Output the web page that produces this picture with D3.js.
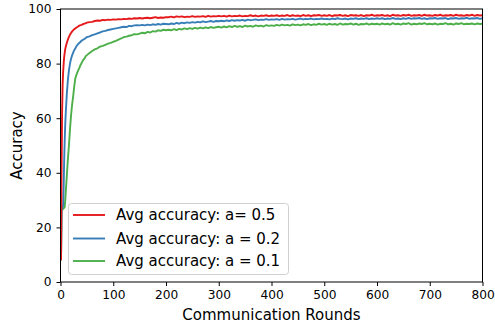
<!DOCTYPE html>
<html>
<head>
<meta charset="utf-8">
<script src="https://cdn.jsdelivr.net/npm/d3@7"></script>
<style>
  html, body { margin: 0; padding: 0; background: #fff; }
  svg { display: block; font-family: "DejaVu Sans", sans-serif; }
</style>
</head>
<body>
<svg id="chart" width="495" height="329"></svg>
<script>
// ---- data ----
const rounds = [1,2,3,4,5,6,7,8,9,10,
  12,14,16,18,20,22,24,26,28,30,32,34,36,38,40,42,44,46,48,50,
  55,60,65,70,75,80,85,90,95,100,
  105,110,115,120,125,130,135,140,145,150,155,160,165,170,175,180,185,190,195,200,
  205,210,215,220,225,230,235,240,245,250,255,260,265,270,275,280,285,290,295,300,
  305,310,315,320,325,330,335,340,345,350,355,360,365,370,375,380,385,390,395,400,
  405,410,415,420,425,430,435,440,445,450,455,460,465,470,475,480,485,490,495,500,
  505,510,515,520,525,530,535,540,545,550,555,560,565,570,575,580,585,590,595,600,
  605,610,615,620,625,630,635,640,645,650,655,660,665,670,675,680,685,690,695,700,
  705,710,715,720,725,730,735,740,745,750,755,760,765,770,775,780,785,790,795,800];

const accA05 = [8,40,62,72,77,80,82.5,84,85.3,86.2,
  87.6,88.8,89.8,90.6,91.2,91.8,92.2,92.6,92.9,93.2,93.4,93.7,93.9,94.1,94.2,94.4,94.5,94.7,94.8,95.0,
  95.2,95.3,95.6,95.8,95.7,96.0,95.9,96.1,96.0,96.2,
  96.1,96.3,96.2,96.4,96.3,96.5,96.4,96.6,96.5,96.7,96.5,96.7,96.8,96.6,96.8,97.0,96.7,96.9,96.8,97.0,
  97.0,97.2,96.9,97.3,97.1,97.3,97.0,97.2,97.1,97.4,97.1,97.3,97.2,97.4,97.1,97.5,97.2,97.4,97.3,97.5,
  97.3,97.5,97.2,97.6,97.3,97.5,97.4,97.6,97.3,97.5,97.4,97.7,97.4,97.6,97.3,97.6,97.5,97.7,97.4,97.6,
  97.5,97.7,97.4,97.6,97.5,97.8,97.4,97.7,97.5,97.6,97.4,97.8,97.5,97.7,97.4,97.7,97.6,97.8,97.5,97.7,
  97.5,97.8,97.4,97.7,97.6,97.8,97.5,97.7,97.4,97.8,97.6,97.7,97.5,97.8,97.4,97.7,97.6,97.9,97.5,97.7,
  97.6,97.8,97.5,97.7,97.4,97.9,97.6,97.7,97.5,97.8,97.6,97.9,97.5,97.7,97.6,97.8,97.5,97.9,97.6,97.7,
  97.5,97.8,97.6,97.9,97.5,97.7,97.6,97.8,97.5,97.9,97.6,97.7,97.5,97.8,97.6,97.9,97.5,97.8,97.6,97.7];

const accA02 = [8,26.5,27,27.5,28,35,45,52,58,62,
  69,74,77.5,80,81.8,83,84,84.9,85.5,86.3,86.8,87.3,87.6,88.0,88.4,88.6,88.9,89.1,89.4,89.7,
  90.0,90.4,90.7,91.1,91.4,91.8,92.0,92.3,92.5,92.7,
  92.9,93.1,93.3,93.5,93.4,93.8,93.7,94.0,94.1,94.0,94.2,94.0,94.3,94.1,94.4,94.2,94.5,94.3,94.6,94.5,
  94.4,94.7,94.5,94.9,94.6,95.0,94.8,95.1,94.9,95.2,95.0,95.3,95.1,95.5,95.2,95.4,95.6,95.3,95.6,95.5,
  95.7,95.5,95.8,95.6,95.9,95.7,95.9,95.8,96.0,95.7,96.1,95.9,96.0,96.2,95.9,96.1,96.0,96.3,96.0,96.2,
  96.1,96.3,96.0,96.4,96.1,96.3,96.2,96.4,96.1,96.3,96.5,96.2,96.4,96.3,96.5,96.2,96.4,96.3,96.5,96.3,
  96.4,96.2,96.5,96.3,96.6,96.4,96.3,96.5,96.2,96.5,96.4,96.6,96.3,96.5,96.4,96.6,96.3,96.5,96.4,96.6,
  96.4,96.6,96.3,96.5,96.4,96.7,96.4,96.5,96.3,96.6,96.4,96.7,96.4,96.6,96.5,96.7,96.4,96.6,96.3,96.6,
  96.5,96.7,96.4,96.6,96.5,96.7,96.3,96.6,96.5,96.7,96.4,96.6,96.5,96.8,96.4,96.6,96.5,96.7,96.4,96.6];

const accA01 = [8,27,26.5,26.6,26.8,27,27.2,27.5,30,33,
  39,45,50,56,61,65,68,71.5,74.5,75.8,76.8,77.7,78.5,79.5,80.2,81,81.6,82,82.8,83.1,
  83.9,84.6,85.2,85.6,86.2,86.5,86.9,87.3,87.6,88.0,
  88.3,88.8,89.2,89.7,89.9,90.2,90.4,90.8,90.7,91.0,91.3,91.1,91.6,91.4,91.9,91.7,92.2,92.0,92.4,92.2,
  92.4,92.2,92.6,92.3,92.7,92.5,92.9,92.6,93.0,92.7,93.1,92.8,93.2,92.9,93.3,93.0,93.4,93.1,93.3,93.5,
  93.2,93.6,93.3,93.7,93.4,93.8,93.5,93.7,93.4,93.9,93.6,93.8,93.5,94.0,93.7,93.9,93.6,94.1,93.8,94.0,
  93.8,94.2,93.9,94.3,94.0,94.2,93.9,94.4,94.1,94.3,94.0,94.4,94.2,94.5,94.1,94.4,94.2,94.6,94.3,94.5,
  94.2,94.6,94.3,94.5,94.2,94.7,94.3,94.5,94.4,94.7,94.3,94.6,94.2,94.5,94.4,94.7,94.3,94.6,94.4,94.6,
  94.3,94.7,94.4,94.6,94.3,94.8,94.4,94.6,94.3,94.7,94.5,94.8,94.3,94.6,94.4,94.7,94.5,94.8,94.4,94.6,
  94.4,94.7,94.3,94.6,94.5,94.8,94.4,94.6,94.3,94.7,94.5,94.8,94.4,94.6,94.5,94.7,94.4,94.7,94.5,94.6];

const seriesNames = ["Avg accuracy: a= 0.5", "Avg accuracy: a = 0.2", "Avg accuracy: a = 0.1"];
const seriesColors = ["#e41a1c", "#377eb8", "#4daf4a"];
const xTicks = [0,100,200,300,400,500,600,700,800];
const yTicks = [0,20,40,60,80,100];

// ---- layout ----
const svg = d3.select("#chart");
const m = {left: 60.5, right: 482.5, top: 9, bottom: 282};
const x = d3.scaleLinear().domain([0, 800]).range([m.left, m.right]);
const y = d3.scaleLinear().domain([0, 100]).range([m.bottom, m.top]);

svg.append("defs").append("clipPath").attr("id", "clip")
  .append("rect").attr("x", m.left).attr("y", m.top)
  .attr("width", m.right - m.left).attr("height", m.bottom - m.top);

const seriesData = [accA05, accA02, accA01];
const line = d3.line().x((d, i) => x(rounds[i])).y(d => y(d));

const lines = svg.append("g").attr("clip-path", "url(#clip)");
[2, 1, 0].forEach(k => {
  lines.append("path").datum(seriesData[k])
    .attr("fill", "none").attr("stroke", seriesColors[k])
    .attr("stroke-width", 1.9).attr("stroke-linejoin", "round")
    .attr("d", line);
});

// axes
const xAxis = svg.append("g").attr("transform", `translate(0,${m.bottom})`)
  .call(d3.axisBottom(x).tickValues(xTicks).tickSize(4).tickPadding(4.5).tickFormat(d3.format("d")));
const yAxis = svg.append("g").attr("transform", `translate(${m.left},0)`)
  .call(d3.axisLeft(y).tickValues(yTicks).tickSize(4).tickPadding(5).tickFormat(d3.format("d")));
[xAxis, yAxis].forEach(a => {
  a.select(".domain").remove();
  a.selectAll("line").attr("stroke", "#000").attr("stroke-width", 1);
  a.selectAll("text").attr("fill", "#000").style("font-size", "12.2px")
    .style("font-family", "'DejaVu Sans', sans-serif");
});

// frame
svg.append("rect").attr("x", m.left).attr("y", m.top)
  .attr("width", m.right - m.left).attr("height", m.bottom - m.top)
  .attr("fill", "none").attr("stroke", "#000").attr("stroke-width", 1);

// axis labels
svg.append("text").attr("x", (m.left + m.right) / 2).attr("y", 320)
  .attr("text-anchor", "middle").style("font-size", "15px").text("Communication Rounds");
svg.append("text").attr("transform", `translate(21.5,${(m.top + m.bottom) / 2}) rotate(-90)`)
  .attr("text-anchor", "middle").style("font-size", "15px").text("Accuracy");

// legend
const lg = svg.append("g");
lg.append("rect").attr("x", 68.5).attr("y", 203.5).attr("width", 220).attr("height", 71)
  .attr("rx", 3).attr("fill", "rgba(255,255,255,0.8)").attr("stroke", "#d0d0d0").attr("stroke-width", 1);
const rowsY = [215, 238.5, 261];
seriesNames.forEach((name, i) => {
  lg.append("line").attr("x1", 73).attr("x2", 105).attr("y1", rowsY[i]).attr("y2", rowsY[i])
    .attr("stroke", seriesColors[i]).attr("stroke-width", 1.9);
  lg.append("text").attr("x", 116).attr("y", rowsY[i]).attr("dy", "0.35em")
    .style("font-size", "15px").text(name);
});
</script>
</body>
</html>
